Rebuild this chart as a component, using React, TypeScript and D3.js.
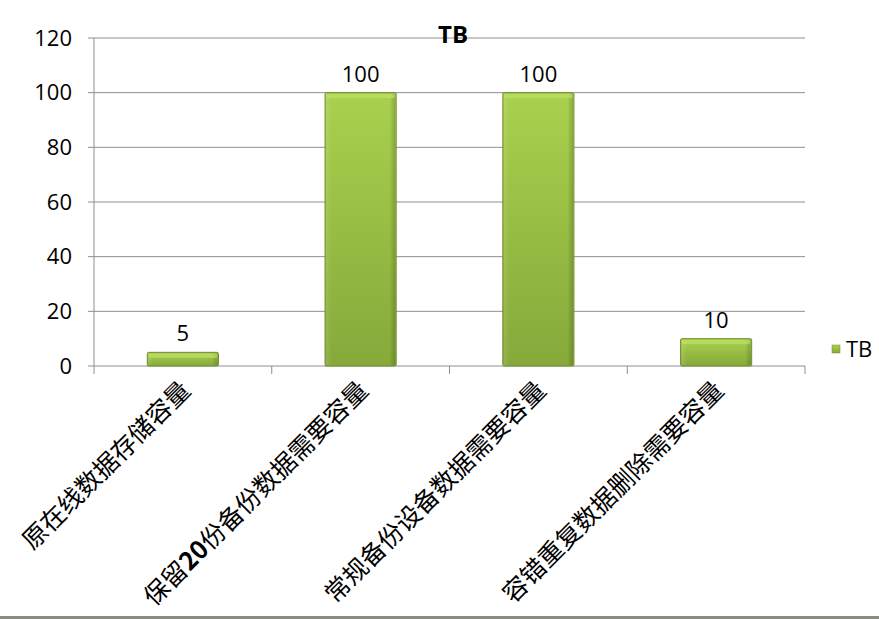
import * as d3 from 'd3'

// chart data
const categories = ['原在线数据存储容量', '保留20份备份数据需要容量', '常规备份设备数据需要容量', '容错重复数据删除需要容量']
const values = [5, 100, 100, 10]
const yTicks = [0, 20, 40, 60, 80, 100, 120]
const seriesName = 'TB'

const W = 879
const H = 619
const margin = { top: 38, right: 74, bottom: 253, left: 94 }

const numFont = '"Open Sans", "Liberation Sans", sans-serif'
const cjkFont = '"Noto Sans CJK SC", sans-serif'

// split label so "20" can be bold like the original
function labelParts(s: string) {
  return s.split(/(\d+)/).filter(p => p.length)
}

export default function App() {
  const x = d3.scaleBand<string>()
    .domain(categories)
    .range([margin.left, W - margin.right])
    .paddingInner(0.6)
    .paddingOuter(0.3)

  const y = d3.scaleLinear()
    .domain([0, 120])
    .range([H - margin.bottom, margin.top])

  const step = x.step()
  const x0 = margin.left
  const x1 = W - margin.right
  const base = y(0)
  const boundaries = d3.range(categories.length + 1).map(i => x0 + i * step)

  return (
    <div style={{ position: 'absolute', left: 0, top: 0 }}>
      <svg width={W} height={H} style={{ display: 'block', background: '#fff' }}>
        <defs>
          <linearGradient id="barFill" x1="0" y1="0" x2="0" y2="1">
            <stop offset="0%" stopColor="#a9d14d" />
            <stop offset="100%" stopColor="#86a93a" />
          </linearGradient>
          <linearGradient id="barSide" x1="0" y1="0" x2="1" y2="0">
            <stop offset="0%" stopColor="#ffffff" stopOpacity="0.12" />
            <stop offset="8%" stopColor="#ffffff" stopOpacity="0" />
            <stop offset="92%" stopColor="#000000" stopOpacity="0" />
            <stop offset="100%" stopColor="#000000" stopOpacity="0.18" />
          </linearGradient>
        </defs>

        {/* gridlines + y ticks */}
        {yTicks.map(t => (
          <g key={t}>
            <line x1={x0 - 6} x2={x1} y1={y(t)} y2={y(t)} stroke="#8e8e8e" strokeWidth={1} />
            <text x={72} y={y(t)} dy="0.35em" textAnchor="end" fontFamily={numFont} fontSize={22} fill="#000">{t}</text>
          </g>
        ))}

        {/* axes */}
        <line x1={x0} x2={x0} y1={y(120)} y2={base} stroke="#8e8e8e" />
        {boundaries.map((b, i) => (
          <line key={i} x1={b} x2={b} y1={base} y2={base + 8} stroke="#8e8e8e" />
        ))}

        {/* title */}
        <text x={453} y={43} textAnchor="middle" fontFamily={numFont} fontWeight="bold" fontSize={24} fill="#000">TB</text>

        {/* bars */}
        {categories.map((c, i) => {
          const bx = x(c)!
          const bw = x.bandwidth()
          const by = y(values[i])
          const bh = base - by
          return (
            <g key={c}>
              <rect x={bx} y={by} width={bw} height={bh} fill="url(#barFill)" stroke="#6f8c2c" strokeWidth={1} rx={1.5} />
              <rect x={bx + 1} y={by + 1} width={bw - 2} height={Math.max(0, bh - 2)} fill="url(#barSide)" />
              <rect x={bx + 1.5} y={by + 1.5} width={bw - 3} height={Math.min(4, Math.max(0, bh - 3))} fill="#c4e36f" opacity={0.6} />
              <text x={bx + bw / 2} y={by - 11} textAnchor="middle" fontFamily={numFont} fontSize={22} fill="#000">{values[i]}</text>
            </g>
          )
        })}

        {/* rotated category labels */}
        {categories.map(c => {
          const cx = x(c)! + x.bandwidth() / 2
          return (
            <text key={c} transform={`translate(${cx + 9},${base + 26}) rotate(-45)`} textAnchor="end"
              fontFamily={cjkFont} fontSize={25} fill="#000">
              {labelParts(c).map((p, j) => (
                <tspan key={j} fontWeight={/\d/.test(p) ? 'bold' : 'normal'}>{p}</tspan>
              ))}
            </text>
          )
        })}

        {/* legend */}
        <rect x={832} y={345} width={8} height={8} fill="url(#barFill)" stroke="#6f8c2c" strokeWidth={0.5} />
        <text x={846} y={349} dy="0.35em" fontFamily={numFont} fontSize={22} fill="#000">{seriesName}</text>

        {/* bottom frame edge */}
        <rect x={0} y={616} width={W} height={3} fill="#8a8a7e" />
      </svg>
    </div>
  )
}
